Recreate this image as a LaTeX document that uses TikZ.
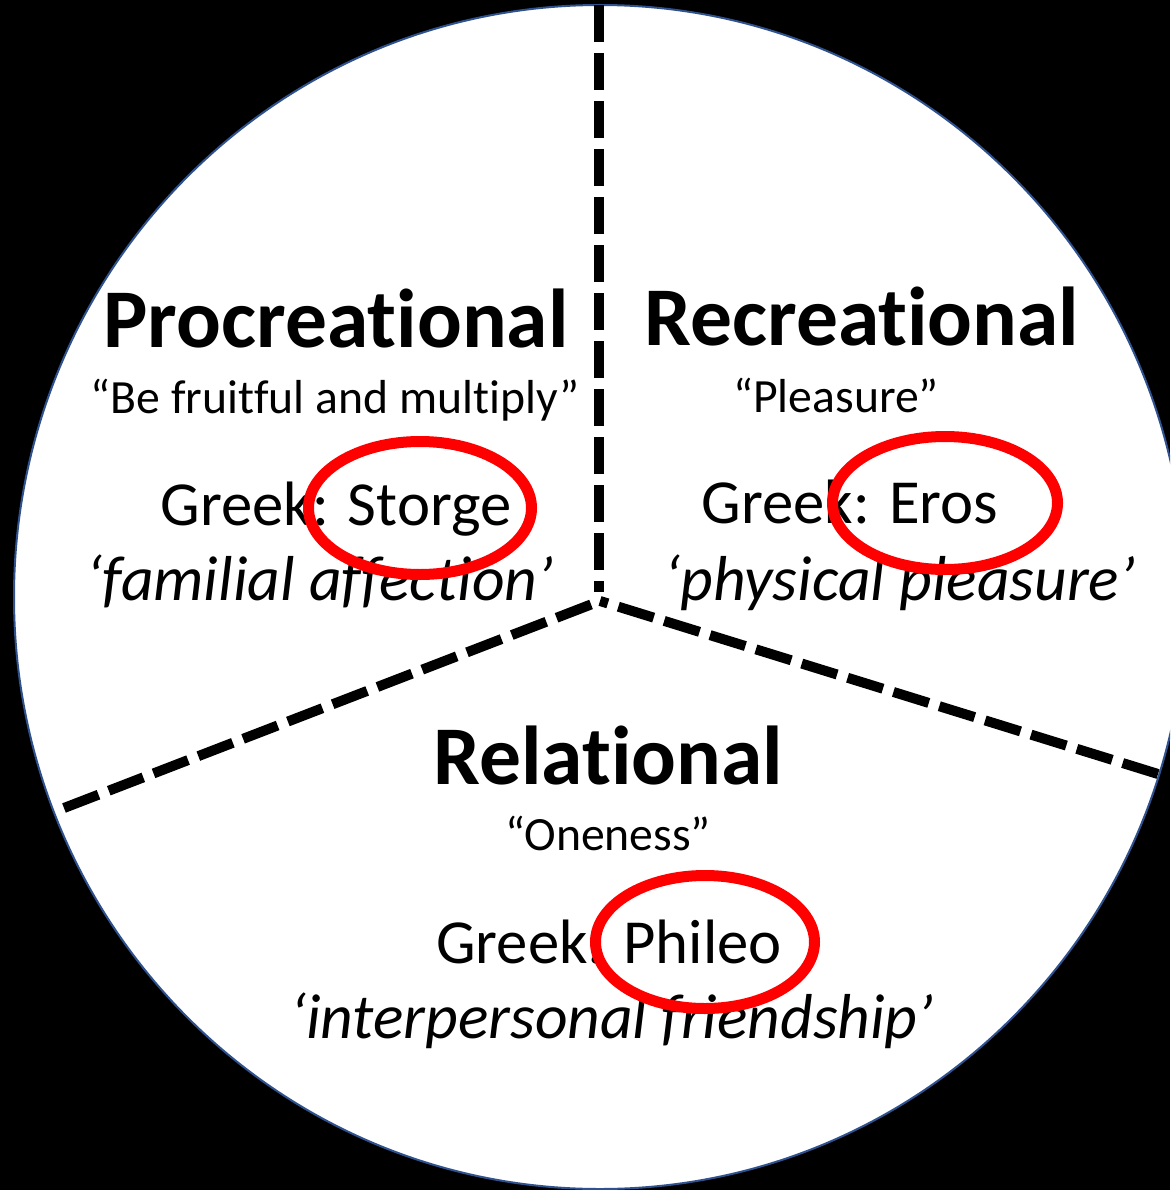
\documentclass[tikz,border=0pt]{standalone}
\usepackage{fontspec}
\setmainfont{Carlito}[Ligatures=NoCommon]
\begin{document}
\begin{tikzpicture}[x=1pt,y=-1pt,
  title/.style={anchor=base,inner sep=0pt,font=\fontsize{83.5}{84}\selectfont\bfseries},
  quote/.style={anchor=base,inner sep=0pt,font=\fontsize{47.7}{48}\selectfont},
  greek/.style={anchor=base,inner sep=0pt,font=\fontsize{62.7}{63}\selectfont},
  meaning/.style={anchor=base,inner sep=0pt,font=\fontsize{63.5}{64}\selectfont\itshape},
  divider/.style={line width=10pt,dash pattern=on 37pt off 11pt},
  redring/.style={draw=red,line width=11pt}]
\useasboundingbox (0,0) rectangle (1170,1190);
\clip (0,0) rectangle (1170,1190);
\fill[black] (0,0) rectangle (1170,1190);
\draw[fill=white,draw={rgb,255:red,47;green,82;blue,143},line width=2pt] (600,597) ellipse [x radius=586, y radius=592];
% divider points
\coordinate (top) at (599,5);
\coordinate (ctop) at (599,592);
\coordinate (cen) at (600,601);
\coordinate (lend) at (64,808);
\coordinate (rend) at (1158,774);
\draw[divider] (top) -- (ctop);
\draw[divider] (lend) -- (cen);
\draw[divider] (rend) -- (cen);
% texts
\node[title] (procT) at (336,347) {Procreational};
\node[quote] (procQ) at (335,413) {“Be fruitful and multiply”};
\node[greek] (procG) at (336,525) {Greek: Storge};
\node[meaning] (procM) at (320,600) {‘familial affection’};
\node[title] (recT) at (862,345) {Recreational};
\node[quote] (recQ) at (836,412) {“Pleasure”};
\node[greek] (recG) at (850,523) {Greek: Eros};
\node[meaning] (recM) at (900,600) {‘physical pleasure’};
\node[title] (relT) at (608,784) {Relational};
\node[quote] (relQ) at (608,850) {“Oneness”};
\node[greek] (relG) at (609,963) {Greek: Phileo};
\node[meaning] (relM) at (612,1038) {‘interpersonal friendship’};
% red rings
\draw[redring] (420,508) ellipse [x radius=111.5, y radius=66.5];
\draw[redring] (945,503) ellipse [x radius=112.5, y radius=66.5];
\draw[redring] (705,942) ellipse [x radius=109.5, y radius=66.5];
\end{tikzpicture}
\end{document}
